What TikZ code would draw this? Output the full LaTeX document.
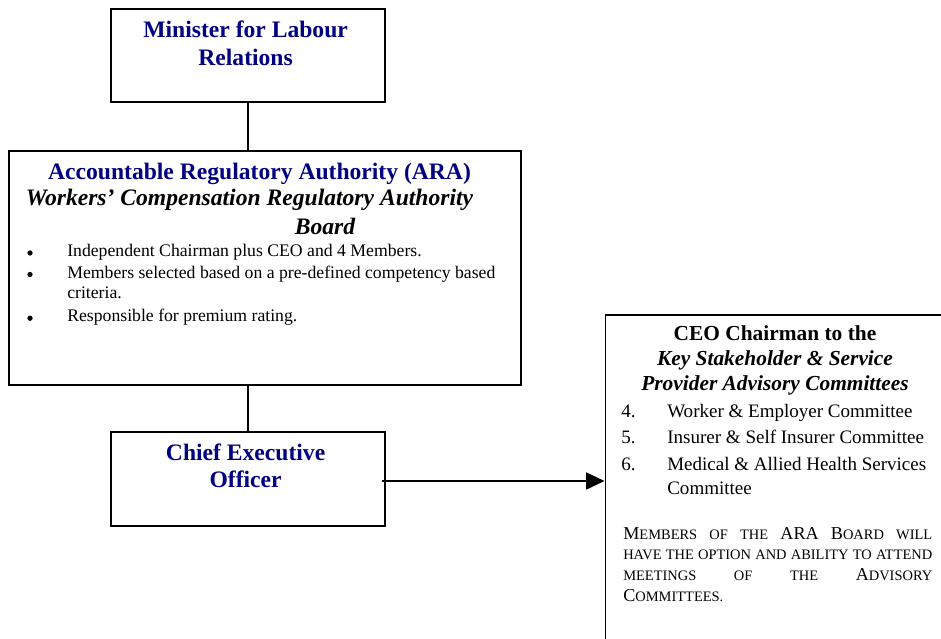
\documentclass[tikz,border=0pt]{standalone}
\usepackage{fontspec}
\setmainfont{Liberation Serif}
\usetikzlibrary{fit,arrows.meta}
\definecolor{navy}{RGB}{0,0,128}
\newcommand\fsc[1]{{\fontsize{9.8pt}{14pt}\selectfont #1}}
\begin{document}
\begin{tikzpicture}[x=0.678pt,y=-0.678pt,
  box/.style={draw,line width=1.3pt,inner sep=0pt,rectangle},
  conn/.style={line width=1.3pt},
  ttl/.style={anchor=base,inner sep=0pt,font=\fontsize{16pt}{19pt}\selectfont\bfseries,text=navy},
  itl/.style={anchor=base,inner sep=0pt,font=\fontsize{16pt}{19pt}\selectfont\bfseries\itshape},
  bul/.style={anchor=base west,inner sep=0pt,font=\fontsize{12pt}{14pt}\selectfont},
  dotb/.style={circle,fill,draw=none,inner sep=0pt,minimum size=3.6pt},
  ctl/.style={anchor=base,inner sep=0pt,font=\fontsize{14.5pt}{17pt}\selectfont\bfseries},
  cti/.style={anchor=base,inner sep=0pt,font=\fontsize{14.5pt}{17pt}\selectfont\bfseries\itshape},
  itm/.style={anchor=base west,inner sep=0pt,font=\fontsize{12.9pt}{15pt}\selectfont},
  scl/.style={anchor=base west,inner sep=0pt,font=\fontsize{12.3pt}{14pt}\selectfont}]
\useasboundingbox (0,0) rectangle (941,639);

% boxes
\node[box,fit={(111,9) (385,102)}] (minister) {};
\node[box,fit={(9,151) (521,385)}] (ara) {};
\node[box,fit={(111,432) (385,526)}] (ceo) {};
\begin{scope}
\clip (0,0) rectangle (941,639);
\node[box,fit={(605.5,315) (962,662)}] (adv) {};
\end{scope}

% connectors
\draw[conn] (minister.south) -- (minister.south |- ara.north);
\draw[conn] (ceo.north |- ara.south) -- (ceo.north);
\coordinate (arrstart) at (382,481);
\draw[conn,-{Triangle[length=12.5pt,width=11.5pt]}] (arrstart) -- (arrstart -| adv.west);

% Minister box
\node[ttl] (m1) at (245.6,37.3) {Minister for Labour};
\node[ttl] (m2) at (245.6,65.7) {Relations};

% ARA box
\node[ttl] (a1) at (259.5,179.5) {Accountable Regulatory Authority (ARA)};
\node[itl] (a2) at (249.5,205) {Workers’ Compensation Regulatory Authority};
\node[itl] (a3) at (325,234) {Board};
\node[dotb] (d1) at (30,253) {};
\node[bul] (b1) at (67,256.7) {Independent Chairman plus CEO and 4 Members.};
\node[dotb] (d2) at (30,274.5) {};
\node[bul] (b2) at (67,278) {Members selected based on a pre-defined competency based};
\node[bul] (b2b) at (67,298.5) {criteria.};
\node[dotb] (d3) at (30,318.2) {};
\node[bul] (b3) at (67,321.7) {Responsible for premium rating.};

% CEO box
\node[ttl] (c1) at (245.6,460.7) {Chief Executive};
\node[ttl] (c2) at (245.6,487.3) {Officer};

% Advisory box
\node[ctl] (t1) at (775,340.7) {CEO Chairman to the};
\node[cti] (t2) at (775,365) {Key Stakeholder \& Service};
\node[cti] (t3) at (775,390) {Provider Advisory Committees};
\node[itm] (n4) at (621,417) {4.};
\node[itm] (i4) at (667,417) {Worker \& Employer Committee};
\node[itm] (n5) at (621,443.5) {5.};
\node[itm] (i5) at (667,443.5) {Insurer \& Self Insurer Committee};
\node[itm] (n6) at (621,470) {6.};
\node[itm] (i6) at (667,470) {Medical \& Allied Health Services};
\node[itm] (i6b) at (667,494) {Committee};
\node[scl] (s1) at (623,539) {\makebox[209.5pt][s]{M\fsc{EMBERS} \fsc{OF} \fsc{THE} ARA B\fsc{OARD} \fsc{WILL}}};
\node[scl] (s2) at (623,559.5) {\makebox[209.5pt][s]{\fsc{HAVE THE OPTION AND ABILITY TO ATTEND}}};
\node[scl] (s3) at (623,580) {\makebox[209.5pt][s]{\fsc{MEETINGS} \fsc{OF} \fsc{THE} A\fsc{DVISORY}}};
\node[scl] (s4) at (623,601) {C\fsc{OMMITTEES.}};
\end{tikzpicture}
\end{document}
